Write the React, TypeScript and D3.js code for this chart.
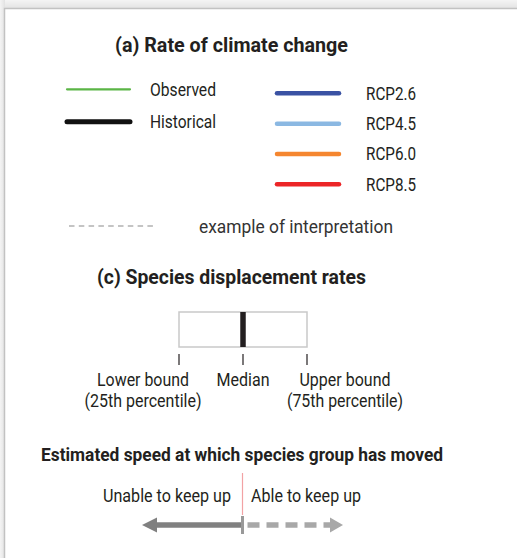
import * as d3 from "d3";
import React from "react";

// legend entries
const leftSeries = ["Observed", "Historical"];
const leftColors = ["#5bb546", "#111111"];
const rcpSeries = ["RCP2.6", "RCP4.5", "RCP6.0", "RCP8.5"];
const rcpColors = ["#3a52a3", "#8bb8e2", "#f5862f", "#ec2527"];
const exampleLabel = "example of interpretation";

// box example (percentiles)
const percentiles = [25, 50, 75];
const percentileLabels = [
  ["Lower bound", "(25th percentile)"],
  ["Median"],
  ["Upper bound", "(75th percentile)"],
];
const speedLabels = ["Unable to keep up", "Able to keep up"];

const titles = [
  "(a) Rate of climate change",
  "(c) Species displacement rates",
  "Estimated speed at which species group has moved",
];

const FONT = "Roboto, 'Liberation Sans', sans-serif";
const INK = "#231f20";

const T = ({ x, y, w, size = 18, bold = false, anchor = "start", fill = INK, children }) => (
  <text
    x={x}
    y={y}
    fontSize={size}
    fontWeight={bold ? 700 : 400}
    fontFamily={FONT}
    fill={fill}
    textAnchor={anchor}
    textLength={w}
    lengthAdjust="spacingAndGlyphs"
  >
    {children}
  </text>
);

const App = () => {
  const W = 517;
  const H = 558;

  const leftY = d3.scalePoint().domain(leftSeries).range([89.3, 121.7]);
  const rcpY = d3.scalePoint().domain(rcpSeries).range([93.3, 184.3]);

  const pX = d3.scaleLinear().domain([25, 75]).range([179, 307]);
  const speedX = d3.scaleLinear().domain([-1, 1]).range([142, 343]);
  const mid = speedX(0);
  const arrowY = 525;

  const labelW = [
    [92, 117],
    [53],
    [91, 116],
  ];
  const labelCx = [143, pX(50), 345];

  return (
    <svg width={W} height={H} style={{ position: "absolute", left: 0, top: 0 }}>
      <defs>
        <linearGradient id="topg" x1="0" y1="0" x2="0" y2="1">
          <stop offset="0" stopColor="#f4f4f4" />
          <stop offset="1" stopColor="#e2e2e2" />
        </linearGradient>
        <linearGradient id="leftg" x1="0" y1="0" x2="1" y2="0">
          <stop offset="0" stopColor="#f4f4f4" />
          <stop offset="1" stopColor="#e2e2e2" />
        </linearGradient>
      </defs>
      <rect x={0} y={0} width={W} height={9} fill="url(#topg)" />
      <rect x={0} y={0} width={5} height={H} fill="url(#leftg)" />
      <rect x={4.5} y={8.5} width={W + 20} height={H + 20} fill="#fff" stroke="#c2c2c2" strokeWidth={1.5} />

      {/* (a) legend */}
      <T x={231.5} y={52} w={233} size={20} bold anchor="middle">{titles[0]}</T>

      {leftSeries.map((s, i) => (
        <g key={s}>
          <line
            x1={67}
            x2={130}
            y1={leftY(s)}
            y2={leftY(s)}
            stroke={leftColors[i]}
            strokeWidth={i === 0 ? 2.2 : 5}
            strokeLinecap="round"
          />
          <T x={150} y={leftY(s) + 6.5} w={66}>{s}</T>
        </g>
      ))}

      {rcpSeries.map((s, i) => (
        <g key={s}>
          <line
            x1={277}
            x2={339}
            y1={rcpY(s)}
            y2={rcpY(s)}
            stroke={rcpColors[i]}
            strokeWidth={4.5}
            strokeLinecap="round"
          />
          <T x={366} y={rcpY(s) + 6.3} w={50}>{s}</T>
        </g>
      ))}

      <line x1={69} x2={157} y1={226} y2={226} stroke="#c4c4c4" strokeWidth={2} strokeDasharray="5.5 4.3" />
      <T x={199} y={232.5} w={194} fill="#333">{exampleLabel}</T>

      {/* (c) box */}
      <T x={231.5} y={283.5} w={269} size={20} bold anchor="middle">{titles[1]}</T>

      <rect
        x={pX(25)}
        y={312}
        width={pX(75) - pX(25)}
        height={35}
        fill="#fff"
        stroke="#c9c9c9"
        strokeWidth={1.5}
      />
      <line x1={pX(50)} x2={pX(50)} y1={312} y2={347} stroke={INK} strokeWidth={5.5} />

      {percentiles.map((p, i) => (
        <g key={p}>
          <line x1={pX(p)} x2={pX(p)} y1={354} y2={365} stroke={INK} strokeWidth={1.2} />
          {percentileLabels[i].map((l, j) => (
            <T key={l} x={labelCx[i]} y={385.5 + j * 21} w={labelW[i][j]} anchor="middle">{l}</T>
          ))}
        </g>
      ))}

      {/* speed */}
      <T x={242} y={460.5} w={402} size={18} bold anchor="middle">{titles[2]}</T>

      <line x1={mid} x2={mid} y1={473} y2={515} stroke="#f2a2a4" strokeWidth={1.2} />
      <T x={231} y={501.5} w={128} anchor="end">{speedLabels[0]}</T>
      <T x={251} y={501.5} w={110}>{speedLabels[1]}</T>

      <line x1={speedX(-1) + 12} x2={mid} y1={arrowY} y2={arrowY} stroke="#808080" strokeWidth={5.5} />
      <path
        d={`M${speedX(-1)},${arrowY} L${speedX(-1) + 15},${arrowY - 7.5} L${speedX(-1) + 15},${arrowY + 7.5} Z`}
        fill="#808080"
      />
      <line
        x1={mid + 5}
        x2={speedX(1) - 13}
        y1={arrowY}
        y2={arrowY}
        stroke="#a8a8a8"
        strokeWidth={5.5}
        strokeDasharray="12 7"
      />
      <path
        d={`M${speedX(1)},${arrowY} L${speedX(1) - 13},${arrowY - 7.5} L${speedX(1) - 13},${arrowY + 7.5} Z`}
        fill="#a8a8a8"
      />
      <line x1={mid} x2={mid} y1={516} y2={534} stroke="#999" strokeWidth={3} />
    </svg>
  );
};

export default App;
